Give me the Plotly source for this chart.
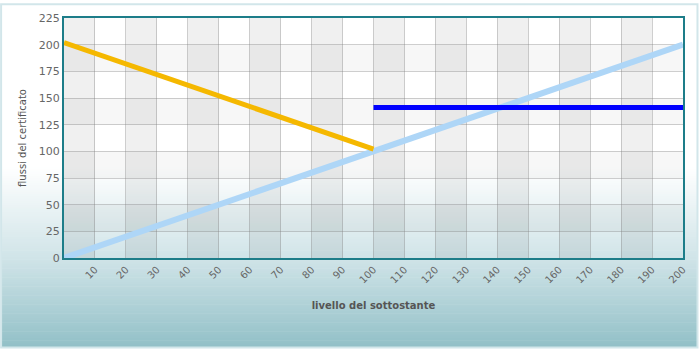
import plotly.graph_objects as go

# ---- data ----
x_orange = [0, 100]
y_orange = [202, 102]
x_lightblue = [0, 200]
y_lightblue = [0, 200]
x_blue = [100, 200]
y_blue = [141, 141]

x_ticks = list(range(10, 201, 10))
y_ticks = list(range(0, 226, 25))

# ---- layout geometry ----
W, H = 700, 350
L, R, T, B = 64, 16, 15, 92
pw, ph = W - L - R, H - T - B


def px_to_paper_x(px):
    return (px - L) / pw


def py_to_paper_y(py):
    return (H - B - py) / ph


shapes = []

# page background gradient (white -> teal), piecewise
stops = [(166, (255, 255, 255)), (258, (208, 228, 232)), (348, (146, 192, 199))]
n = 80
g0, g1 = stops[0][0], stops[-1][0]


def color_at(y):
    for (ya, ca), (yb, cb) in zip(stops[:-1], stops[1:]):
        if ya <= y <= yb:
            t = (y - ya) / (yb - ya)
            return tuple(int(round(ca[k] + (cb[k] - ca[k]) * t)) for k in range(3))
    return stops[-1][1]


for i in range(n):
    a = g0 + (g1 - g0) * i / n
    b = g0 + (g1 - g0) * (i + 1) / n
    c = color_at((a + b) / 2)
    shapes.append(dict(type="rect", xref="paper", yref="paper",
                       x0=px_to_paper_x(1), x1=px_to_paper_x(699),
                       y0=py_to_paper_y(b + 0.6), y1=py_to_paper_y(a),
                       fillcolor="rgb(%d,%d,%d)" % c, line=dict(width=0), layer="below"))

# outer border
shapes.append(dict(type="rect", xref="paper", yref="paper",
                   x0=px_to_paper_x(1), x1=px_to_paper_x(698.5),
                   y0=py_to_paper_y(348.5), y1=py_to_paper_y(1),
                   line=dict(color="#d2e6ea", width=2), fillcolor="rgba(0,0,0,0)", layer="below"))

# column bands (even columns darker)
for i in range(0, 20, 2):
    shapes.append(dict(type="rect", xref="x", yref="y", x0=i * 10, x1=i * 10 + 10, y0=0, y1=225,
                       fillcolor="rgba(0,0,0,0.06)", line=dict(width=0), layer="below"))
# row bands (odd rows lighter grey)
for j in range(1, 9, 2):
    shapes.append(dict(type="rect", xref="x", yref="y", x0=0, x1=200, y0=j * 25, y1=j * 25 + 25,
                       fillcolor="rgba(0,0,0,0.03)", line=dict(width=0), layer="below"))

fig = go.Figure()
fig.add_trace(go.Scatter(x=x_lightblue, y=y_lightblue, mode="lines",
                         line=dict(color="#aed6f7", width=6), hoverinfo="skip"))
fig.add_trace(go.Scatter(x=x_orange, y=y_orange, mode="lines",
                         line=dict(color="#f5b800", width=5), hoverinfo="skip"))
fig.add_trace(go.Scatter(x=x_blue, y=y_blue, mode="lines",
                         line=dict(color="#0000ff", width=5), hoverinfo="skip"))

axis_line = "#1d7d89"
grid_c = "rgba(130,130,130,0.38)"
tick_font = dict(family="DejaVu Sans", size=11, color="#666666")

fig.update_layout(
    width=W, height=H,
    margin=dict(l=L, r=R, t=T, b=B),
    paper_bgcolor="white",
    plot_bgcolor="rgba(0,0,0,0)",
    showlegend=False,
    shapes=shapes,
    xaxis=dict(range=[0, 200], tickvals=x_ticks, ticktext=[str(v) for v in x_ticks],
               tickangle=-45, tickfont=dict(family="DejaVu Sans", size=10, color="#666666"),
               showgrid=True, gridcolor=grid_c, gridwidth=1,
               showline=True, linecolor=axis_line, linewidth=2, mirror=True,
               zeroline=False, ticks="", ticklen=0,
               title=dict(text="<b>livello del sottostante</b>",
                          font=dict(family="DejaVu Sans", size=10, color="#555555"),
                          standoff=18)),
    yaxis=dict(range=[0, 225], tickvals=y_ticks, tickfont=tick_font,
               showgrid=True, gridcolor=grid_c, gridwidth=1,
               showline=True, linecolor=axis_line, linewidth=2, mirror=True,
               zeroline=False, ticks="", ticklen=0,
               title=dict(text="flussi del certificato",
                          font=dict(family="DejaVu Sans", size=10, color="#555555"),
                          standoff=10)),
)

fig.write_html("out.html")
